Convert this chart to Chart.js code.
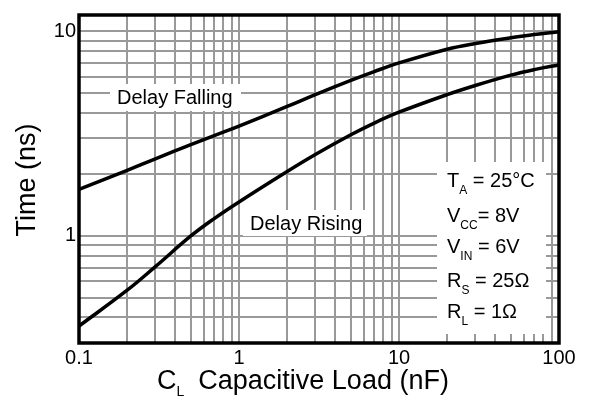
<!DOCTYPE html>
<html>
<head>
<meta charset="utf-8">
<script src="https://cdn.jsdelivr.net/npm/chart.js@4.4.1/dist/chart.umd.min.js"></script>
<style>
  html, body { margin: 0; padding: 0; background: #fff; }
  #wrap { width: 589px; height: 402px; position: relative; }
</style>
</head>
<body>
<div id="wrap"><canvas id="delayChart"></canvas></div>
<script>
// valores (escala log-log)
const loadNF = [0.1, 0.2, 0.3, 0.5, 0.7, 1, 2, 3, 5, 7, 10, 20, 30, 50, 70, 100];
const delayFalling = [1.69, 2.09, 2.38, 2.79, 3.09, 3.44, 4.29, 4.90, 5.75, 6.35, 7.00, 8.17, 8.71, 9.29, 9.64, 9.93];
const delayRising = [0.363, 0.543, 0.708, 1.0, 1.216, 1.466, 2.065, 2.50, 3.12, 3.56, 4.02, 4.90, 5.43, 6.10, 6.49, 6.85];

const xGridValues = [0.1, 0.2, 0.3, 0.4, 0.5, 0.6, 0.7, 0.8, 0.9, 1, 2, 3, 4, 5, 6, 7, 8, 9, 10, 20, 30, 40, 50, 60, 70, 80, 90, 100];
const yGridValues = [0.3, 0.4, 0.5, 0.6, 0.7, 0.8, 0.9, 1, 2, 3, 4, 5, 6, 7, 8, 9, 10];
const xTickLabels = [0.1, 1, 10, 100];
const yTickLabels = [1, 10];

const FONT = '"Liberation Sans", Arial, Helvetica, sans-serif';

// texto com subscrito: lista de trechos [texto, ehSubscrito, espacoExtra]
function drawRich(ctx, parts, x, y, size, subSize) {
    let cx = x;
    parts.forEach(([txt, sub, gap]) => {
        ctx.font = (sub ? subSize : size) + 'px ' + FONT;
        ctx.fillText(txt, cx, sub ? y + 7 : y);
        cx += ctx.measureText(txt).width + (gap || 0);
    });
}

const decorPlugin = {
    id: 'decor',
    beforeDatasetsDraw(chart) {
        const ctx = chart.ctx;
        ctx.save();
        // caixas brancas sob os rótulos (escondem a grade)
        ctx.fillStyle = '#fff';
        ctx.fillRect(110, 84, 131, 27);
        ctx.fillRect(243, 210, 124, 26);
        ctx.fillRect(437, 162, 109, 172);

        ctx.fillStyle = '#000';
        ctx.textBaseline = 'alphabetic';
        ctx.textAlign = 'left';
        ctx.font = '20px ' + FONT;
        ctx.fillText('Delay Falling', 117, 104);
        ctx.fillText('Delay Rising', 250, 230);

        drawRich(ctx, [['T'], ['A', true], [' = 25°C']], 447, 187, 20, 12);
        drawRich(ctx, [['V'], ['CC', true], ['= 8V']], 447, 222, 20, 12);
        drawRich(ctx, [['V'], ['IN', true], [' = 6V']], 447, 253, 20, 12);
        drawRich(ctx, [['R'], ['S', true], [' = 25Ω']], 447, 287, 20, 12);
        drawRich(ctx, [['R'], ['L', true], [' = 1Ω']], 447, 318, 20, 12);
        ctx.restore();
    },
    afterDraw(chart) {
        const { ctx, chartArea: a } = chart;
        ctx.save();
        ctx.strokeStyle = '#000';
        ctx.lineWidth = 3.5;
        ctx.strokeRect(a.left, a.top, a.right - a.left, a.bottom - a.top);

        ctx.fillStyle = '#000';
        ctx.textBaseline = 'alphabetic';
        // título do eixo x com subscrito
        ctx.textAlign = 'left';
        drawRich(ctx, [['C'], ['L', true, 14], ['Capacitive Load (nF)']], 157, 389, 27, 14);

        // título do eixo y
        ctx.translate(35, 180);
        ctx.rotate(-Math.PI / 2);
        ctx.textAlign = 'center';
        ctx.font = '27px ' + FONT;
        ctx.fillText('Time (ns)', 0, 0);
        ctx.restore();
    }
};

const ctx = document.getElementById('delayChart');

new Chart(ctx, {
    type: 'line',
    data: {
        datasets: [
            {
                label: 'Delay Falling',
                data: loadNF.map((x, i) => ({ x: x, y: delayFalling[i] })),
                borderColor: '#000',
                borderWidth: 3.5,
                pointRadius: 0,
                tension: 0.4,
                fill: false
            },
            {
                label: 'Delay Rising',
                data: loadNF.map((x, i) => ({ x: x, y: delayRising[i] })),
                borderColor: '#000',
                borderWidth: 3.5,
                pointRadius: 0,
                tension: 0.4,
                fill: false
            }
        ]
    },
    options: {
        responsive: true,
        maintainAspectRatio: false,
        animation: false,
        layout: { padding: { top: 6, right: 30, left: 0, bottom: 0 } },
        plugins: {
            legend: { display: false },
            tooltip: { enabled: false }
        },
        scales: {
            x: {
                type: 'logarithmic',
                min: 0.1,
                max: 100,
                afterBuildTicks: (scale) => {
                    scale.ticks = xGridValues.map(v => ({ value: v }));
                },
                afterFit: (scale) => { scale.height = 59; },
                border: { display: false },
                grid: { color: '#999', lineWidth: 2, drawTicks: false },
                ticks: {
                    autoSkip: false,
                    maxRotation: 0,
                    padding: 3,
                    color: '#000',
                    font: { family: FONT, size: 20 },
                    callback: (v) => xTickLabels.includes(v) ? String(v) : ''
                }
            },
            y: {
                type: 'logarithmic',
                min: 0.3,
                max: 12,
                afterBuildTicks: (scale) => {
                    scale.ticks = yGridValues.map(v => ({ value: v }));
                },
                afterFit: (scale) => { scale.width = 79; },
                border: { display: false },
                grid: { color: '#999', lineWidth: 2, drawTicks: false },
                ticks: {
                    autoSkip: false,
                    padding: 3,
                    color: '#000',
                    font: { family: FONT, size: 20 },
                    callback: (v) => yTickLabels.includes(v) ? String(v) : ''
                }
            }
        }
    },
    plugins: [decorPlugin]
});
</script>
</body>
</html>
